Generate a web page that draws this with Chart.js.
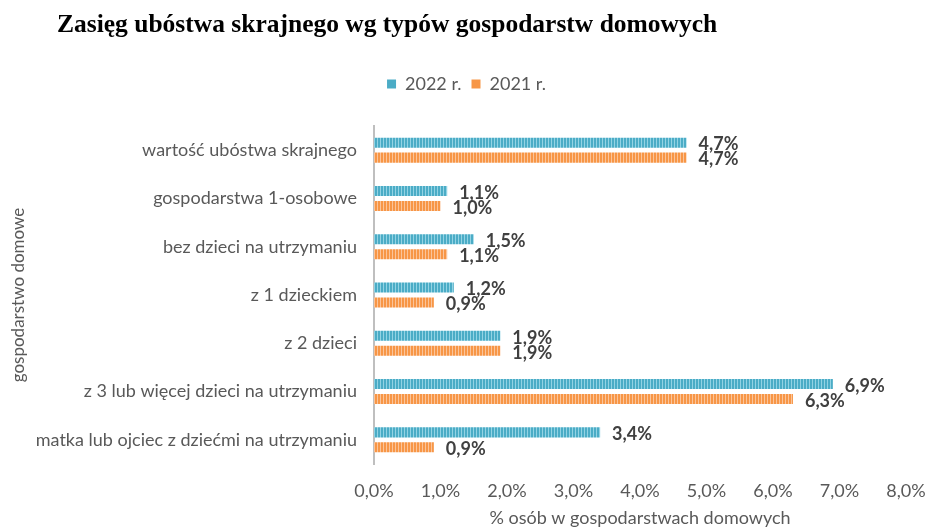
<!DOCTYPE html>
<html>
<head>
<meta charset="utf-8">
<script src="https://cdn.jsdelivr.net/npm/chart.js@4/dist/chart.umd.min.js"></script>
<style>
  html, body { margin: 0; padding: 0; background: #ffffff; }
  #wrap { position: relative; width: 925px; height: 527px; overflow: hidden; }
  #title { position: absolute; left: 57px; top: 9px; font-family: "Liberation Serif", serif; font-weight: bold; font-size: 25.5px; color: #000; white-space: nowrap; line-height: 30px; }
  canvas { position: absolute; left: 0; top: 0; }
</style>
</head>
<body>
<div id="wrap">
  <canvas id="c" width="925" height="527"></canvas>
  <div id="title">Zasięg ubóstwa skrajnego wg typów gospodarstw domowych</div>
</div>
<script>
const categories = [
  "wartość ubóstwa skrajnego",
  "gospodarstwa 1-osobowe",
  "bez dzieci na utrzymaniu",
  "z 1 dzieckiem",
  "z 2 dzieci",
  "z 3 lub więcej dzieci na utrzymaniu",
  "matka lub ojciec z dziećmi na utrzymaniu"
];
const seriesNames = ["2022 r.", "2021 r."];
const values2022 = [4.7, 1.1, 1.5, 1.2, 1.9, 6.9, 3.4];
const values2021 = [4.7, 1.0, 1.1, 0.9, 1.9, 6.3, 0.9];
const xTicks = [0, 1, 2, 3, 4, 5, 6, 7, 8];
const xAxisTitle = "% osób w gospodarstwach domowych";
const yAxisTitle = "gospodarstwo domowe";

const BLUE = "#4bacc6";
const ORANGE = "#f79646";

function stripePattern(base, light) {
  const p = document.createElement("canvas");
  p.width = 3; p.height = 4;
  const g = p.getContext("2d");
  g.fillStyle = base; g.fillRect(0, 0, 3, 4);
  g.fillStyle = light; g.fillRect(2, 0, 1, 4);
  return document.getElementById("c").getContext("2d").createPattern(p, "repeat");
}

const fmt = v => v.toFixed(1).replace(".", ",") + "%";

const labelPlugin = {
  id: "barLabels",
  afterDatasetsDraw(chart) {
    const ctx = chart.ctx;
    ctx.save();
    ctx.font = "bold 18px Lato";
    ctx.fillStyle = "#404040";
    ctx.textAlign = "left";
    ctx.textBaseline = "middle";
    chart.data.datasets.forEach((ds, di) => {
      const meta = chart.getDatasetMeta(di);
      meta.data.forEach((el, i) => {
        ctx.fillText(fmt(ds.data[i]), el.x + 12, el.y + 2);
      });
    });
    ctx.restore();
  }
};

const legendGapPlugin = {
  id: "legendGap",
  beforeInit(chart) {
    const origFit = chart.legend.fit;
    chart.legend.fit = function () {
      origFit.bind(chart.legend)();
      this.height += 23;
    };
  }
};

new Chart(document.getElementById("c"), {
  type: "bar",
  data: {
    labels: categories,
    datasets: [
      { label: seriesNames[0], data: values2022, backgroundColor: stripePattern(BLUE, "#93d3e4"), legendColor: BLUE },
      { label: seriesNames[1], data: values2021, backgroundColor: stripePattern(ORANGE, "#fbc49a"), legendColor: ORANGE }
    ]
  },
  options: {
    indexAxis: "y",
    responsive: false,
    animation: false,
    devicePixelRatio: 1,
    categoryPercentage: 0.62,
    barPercentage: 0.67,
    layout: { padding: { top: 65, left: 8, right: 0, bottom: 0 } },
    plugins: {
      legend: {
        position: "top",
        labels: {
          font: { family: "Lato", size: 18 },
          color: "#595959",
          boxWidth: 9,
          boxHeight: 9,
          padding: 10,
          generateLabels(chart) {
            return chart.data.datasets.map((ds, i) => ({
              text: ds.label,
              fillStyle: ds.legendColor,
              strokeStyle: ds.legendColor,
              lineWidth: 0,
              fontColor: "#595959",
              datasetIndex: i,
              hidden: false
            }));
          }
        }
      },
      tooltip: { enabled: false }
    },
    scales: {
      x: {
        min: 0, max: 8,
        afterBuildTicks(scale) { scale.ticks = xTicks.map(v => ({ value: v })); },
        afterFit(scale) { scale.paddingRight = 19; scale.height = 63; },
        ticks: {
          callback: v => fmt(v),
          font: { family: "Lato", size: 18 },
          color: "#595959",
          padding: 16
        },
        grid: { display: false, drawTicks: false },
        border: { display: false },
        title: {
          display: true,
          text: xAxisTitle,
          font: { family: "Lato", size: 18, lineHeight: 1 },
          color: "#595959",
          padding: { top: 0, bottom: 0 }
        }
      },
      y: {
        afterFit(scale) { scale.width = 366; },
        ticks: {
          font: { family: "Lato", size: 18 },
          color: "#595959",
          padding: 17
        },
        grid: { display: false, drawTicks: false },
        border: { display: true, color: "#bfbfbf", width: 2 },
        title: {
          display: true,
          text: yAxisTitle,
          font: { family: "Lato", size: 17 },
          color: "#595959",
          padding: { top: 0, bottom: 9 }
        }
      }
    }
  },
  plugins: [labelPlugin, legendGapPlugin]
});
</script>
</body>
</html>
